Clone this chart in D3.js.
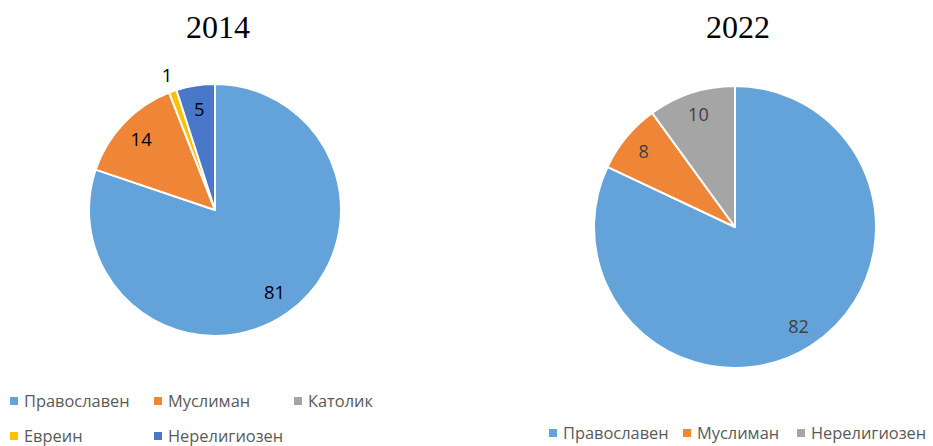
<!DOCTYPE html>
<html>
<head>
<meta charset="utf-8">
<script src="https://cdn.jsdelivr.net/npm/d3@7"></script>
<style>
  body { margin: 0; background: #fff; }
  svg { display: block; }
</style>
</head>
<body>
<div class="svg-container"></div>
<script>
// data
var categories2014 = ["Православен", "Муслиман", "Католик", "Евреин", "Нерелигиозен"];
var values2014 = [81, 14, 0, 1, 5];
var colors2014 = ["#64a3d9", "#ee8537", "#a5a5a5", "#ffc000", "#4a78c8"];

var categories2022 = ["Православен", "Муслиман", "Нерелигиозен"];
var values2022 = [82, 8, 10];
var colors2022 = ["#64a3d9", "#ee8537", "#a5a5a5"];

var w = 933, h = 446;

const svg = d3.select(".svg-container")
  .append("svg")
  .attr("width", w)
  .attr("height", h);

function drawPie(opt) {
  var data = opt.cats.map(function(c, i) { return { name: c, value: opt.vals[i], color: opt.cols[i] }; });

  const pie = d3.pie().sort(null).value(d => d.value);
  const arc = d3.arc().innerRadius(0).outerRadius(opt.r);
  const g = svg.append("g").attr("transform", "translate(" + opt.cx + "," + opt.cy + ")");

  const arcs = pie(data).filter(d => d.value > 0);

  g.selectAll("path")
    .data(arcs)
    .enter()
    .append("path")
    .attr("d", arc)
    .attr("fill", d => d.data.color)
    .attr("stroke", "#fff")
    .attr("stroke-width", 2)
    .attr("stroke-linejoin", "round");

  // labels: inside for large slices, outside for tiny ones
  g.selectAll("text.lbl")
    .data(arcs)
    .enter()
    .append("text")
    .attr("class", "lbl")
    .attr("transform", function(d) {
      var a = (d.startAngle + d.endAngle) / 2;
      var rr = d.value < 3 ? opt.r + 17 : opt.r * opt.lblR;
      return "translate(" + (Math.sin(a) * rr) + "," + (-Math.cos(a) * rr) + ")";
    })
    .attr("text-anchor", "middle")
    .attr("dy", "0.35em")
    .attr("font-family", "'Open Sans', 'Noto Sans', sans-serif")
    .attr("font-size", opt.lblSize)
    .attr("fill", opt.lblColor)
    .text(d => d.value);

  // title
  svg.append("text")
    .attr("x", opt.cx + 3)
    .attr("y", 38)
    .attr("text-anchor", "middle")
    .attr("font-family", "'Liberation Serif', 'Times New Roman', serif")
    .attr("font-size", 32)
    .attr("fill", "#000")
    .text(opt.title);

  // legend
  const leg = svg.append("g");
  const items = leg.selectAll("g")
    .data(data)
    .enter()
    .append("g")
    .attr("transform", (d, i) => "translate(" + opt.legX[i] + "," + opt.legY[i] + ")");
  items.append("rect")
    .attr("x", 0).attr("y", -4)
    .attr("width", 8).attr("height", 8)
    .attr("fill", d => d.color);
  items.append("text")
    .attr("x", 14)
    .attr("dy", "0.35em")
    .attr("font-family", "'Open Sans', 'Noto Sans', sans-serif")
    .attr("font-size", 16.4)
    .attr("fill", "#595959")
    .text(d => d.name);
}

drawPie({
  title: "2014", cats: categories2014, vals: values2014, cols: colors2014,
  cx: 215, cy: 210, r: 126, lblR: 0.81, lblSize: 18.5, lblColor: "#000",
  legX: [10, 154, 294, 10, 154], legY: [401, 401, 401, 436, 436]
});

drawPie({
  title: "2022", cats: categories2022, vals: values2022, cols: colors2022,
  cx: 735, cy: 227, r: 141, lblR: 0.84, lblSize: 18, lblColor: "#404040",
  legX: [549, 683, 797], legY: [433, 433, 433]
});
</script>
</body>
</html>
